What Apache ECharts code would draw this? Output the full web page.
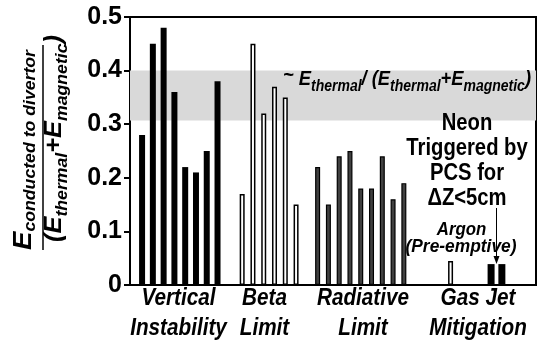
<!DOCTYPE html>
<html><head><meta charset="utf-8">
<script src="https://cdn.jsdelivr.net/npm/echarts@6/dist/echarts.min.js"></script>
<style>html,body{margin:0;padding:0;background:#fff}#c{width:544px;height:346px}</style>
</head><body><div id="c"></div>
<script>
// ---- data ----
const groupLabels = [['Vertical','Instability'],['Beta','Limit'],['Radiative','Limit'],['Gas Jet','Mitigation']];
const verticalInstability = [0.28,0.45,0.48,0.36,0.22,0.21,0.25,0.38];
const betaLimit = [0.17,0.45,0.32,0.37,0.35,0.15];
const radiativeLimit = [0.22,0.15,0.24,0.25,0.18,0.18,0.24,0.16,0.19];
const argonPreemptive = [0.045];
const neonPCS = [0.039,0.039];
const yTickLabels = ['0','0.1','0.2','0.3','0.4','0.5'];
const thermalFractionBand = [0.307,0.40];

// ---- slot layout (empty slots before each group, bars every 3rd slot) ----
const TOTAL_SLOTS = 113, STEP = 3;
const defs = [
  {name:'Vertical Instability', values:verticalInstability, lead:3, width:6, item:{color:'#000'}},
  {name:'Beta Limit', values:betaLimit, lead:6, width:5, item:{color:'#fff', borderColor:'#000', borderWidth:1.5}},
  {name:'Radiative Limit', values:radiativeLimit, lead:5, width:5, item:{color:'#404040', borderColor:'#000', borderWidth:1.2}},
  {name:'Argon (Pre-emptive)', values:argonPreemptive, lead:12, width:5, item:{color:'#fff', borderColor:'#000', borderWidth:1.5}},
  {name:'Neon PCS', values:neonPCS, lead:10, width:7, item:{color:'#000'}}
];
let cursor = 0;
defs.forEach(d => {
  cursor += d.lead;
  d.data = new Array(TOTAL_SLOTS).fill(null);
  d.values.forEach((v,i) => { if (i>0) cursor += STEP-1; d.data[cursor] = v; cursor += 1; });
});
const categories = Array.from({length:TOTAL_SLOTS}, (_,i)=>String(i));

// ---- text helpers ----
const FF = '"Liberation Sans", Arial, Helvetica, sans-serif';
const ctx = document.createElement('canvas').getContext('2d');
function mw(t,s,it){ ctx.font=(it?'italic ':'')+'bold '+s+'px '+FF; return ctx.measureText(t).width; }
function run(segs,opt){
  let cx=0; const kids=[];
  segs.forEach(sg=>{
    const w=mw(sg.t,sg.s,opt.italic);
    kids.push({type:'text', x:cx, y:(sg.dy||0)-0.3465*sg.s, silent:true, z:100,
      style:{text:sg.t, fontSize:sg.s, fontWeight:'bold', fontStyle:opt.italic?'italic':'normal', fontFamily:FF, fill:'#000',
        align:'left', verticalAlign:'middle', textAlign:'left', textVerticalAlign:'middle'}});
    cx+=w;
  });
  const sc = opt.width ? opt.width/cx : (opt.scale||1);
  const off = opt.align==='center' ? -cx/2 : 0;
  kids.forEach(k=>k.x+=off);
  return {type:'group', x:opt.x, y:opt.y, scaleX:sc, rotation:opt.rotation||0, silent:true, z:100, children:kids};
}

const graphics = [];
// y-axis title (fraction)
graphics.push(run([{t:'E',s:25},{t:'conducted to divertor',s:16,dy:3}],{x:33,y:150,align:'center',width:200,italic:true,rotation:Math.PI/2}));
graphics.push(run([{t:'(',s:23},{t:'E',s:23},{t:'thermal',s:16,dy:5},{t:'+',s:23},{t:'E',s:23},{t:'magnetic',s:16,dy:5},{t:')',s:23}],{x:63,y:138.5,align:'center',width:207,italic:true,rotation:Math.PI/2}));
graphics.push({type:'line', silent:true, z:100, shape:{x1:43,y1:45,x2:43,y2:250}, style:{stroke:'#000', lineWidth:1.5}});
// band annotation
graphics.push(run([{t:'~ ',s:21,dy:-4},{t:'E',s:21},{t:'thermal',s:16,dy:5},{t:'/ (',s:21},{t:'E',s:21},{t:'thermal',s:16,dy:5},{t:'+',s:21},{t:'E',s:21},{t:'magnetic',s:16,dy:5},{t:')',s:21}],{x:283,y:86.7,width:248,italic:true}));
// Neon note
[['Neon',131.7],['Triggered by',156.7],['PCS for',181.7],['\u0394Z<5cm',206.5]].forEach(([t,b])=>{
  graphics.push(run([{t,s:23}],{x:467,y:b,align:'center',scale:0.88,italic:false}));
});
graphics.push(run([{t:'Argon',s:18.5}],{x:461.5,y:236.7,align:'center',scale:0.91,italic:true}));
graphics.push(run([{t:'(Pre-emptive)',s:18.5}],{x:461,y:253.3,align:'center',width:111,italic:true}));
// arrow
graphics.push({type:'line', silent:true, z:100, shape:{x1:496.5,y1:208,x2:496.5,y2:258}, style:{stroke:'#000', lineWidth:1}});
graphics.push({type:'polygon', silent:true, z:100, shape:{points:[[493.5,256],[499.5,256],[496.5,264]]}, style:{fill:'#000'}});
// group labels
const groupCenters = [178.5,264.5,363,478];
groupLabels.forEach((lines,i)=>{
  graphics.push(run([{t:lines[0],s:23}],{x:groupCenters[i],y:306.7,align:'center',scale:0.9,italic:true}));
  graphics.push(run([{t:lines[1],s:23}],{x:groupCenters[i],y:336.7,align:'center',scale:0.9,italic:true}));
});

const series = defs.map(d=>({
  type:'bar', name:d.name, data:d.data, barWidth:d.width, barGap:'-100%', itemStyle:d.item, z:3, silent:true
}));
series.unshift({type:'bar', name:'band', data:[], z:1, silent:true,
  markArea:{silent:true, itemStyle:{color:'#d9d9d9'}, data:[[{yAxis:thermalFractionBand[0]},{yAxis:thermalFractionBand[1]}]]}});

const chart = echarts.init(document.getElementById('c'), null, {renderer:'canvas'});
chart.setOption({
  animation:false,
  backgroundColor:'#fff',
  grid:{left:130, right:8, top:17, bottom:61, show:true, borderColor:'#000', borderWidth:2, backgroundColor:'transparent'},
  xAxis:{type:'category', data:categories, axisLine:{lineStyle:{color:'#000', width:2}}, axisTick:{show:false}, axisLabel:{show:false}, splitLine:{show:false}},
  yAxis:{type:'value', min:0, max:0.5, interval:0.1, splitLine:{show:false},
    axisLine:{show:true, lineStyle:{color:'#000', width:2}},
    axisTick:{show:true, length:6, lineStyle:{color:'#000', width:2}},
    axisLabel:{margin:8, color:'#000', fontSize:25, fontWeight:'bold', fontFamily:FF,
      formatter:(v)=>yTickLabels[Math.round(v*10)]}},
  series:series,
  graphic:graphics
});
</script></body></html>
